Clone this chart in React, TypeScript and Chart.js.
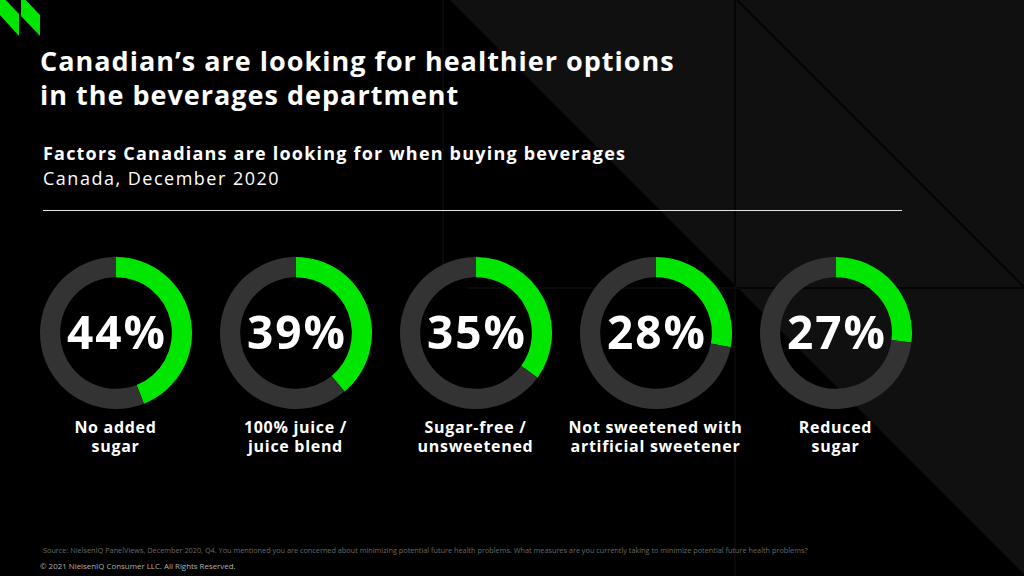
import React, { useEffect, useRef } from "react";
import { Chart, registerables } from "chart.js";

Chart.register(...registerables);

// Survey results: share of Canadians looking for each factor when buying beverages
const factorLines: string[][] = [
  ["No added", "sugar"],
  ["100% juice /", "juice blend"],
  ["Sugar-free /", "unsweetened"],
  ["Not sweetened with", "artificial sweetener"],
  ["Reduced", "sugar"],
];
const sharePct: number[] = [44, 39, 35, 28, 27];

const GREEN = "#00e600";
const RING_GREY = "#333333";
const FONT = "'Open Sans', 'DejaVu Sans', sans-serif";

const RING_R = 76;
const RING_CY = 332.5;
const RING_X0 = 115.5;
const RING_STEP = 180;

// Writes the value in the hole of the ring, taken from the dataset itself
const centerValuePlugin = {
  id: "centerValue",
  afterDraw(chart: any) {
    const meta = chart.getDatasetMeta(0);
    const arc = meta.data[0];
    if (!arc) return;
    const v = chart.data.datasets[0].data[0];
    const { ctx } = chart;
    ctx.save();
    ctx.fillStyle = "#ffffff";
    ctx.font = `700 46px ${FONT}`;
    (ctx as any).letterSpacing = "2px";
    ctx.textAlign = "center";
    ctx.textBaseline = "alphabetic";
    ctx.fillText(`${v}%`, arc.x + 1, arc.y + 16);
    ctx.restore();
  },
};

function Ring({ value, index }: { value: number; index: number }) {
  const ref = useRef<HTMLCanvasElement | null>(null);
  useEffect(() => {
    if (!ref.current) return;
    const chart = new Chart(ref.current, {
      type: "doughnut",
      data: {
        labels: ["yes", "other"],
        datasets: [
          {
            data: [value, 100 - value],
            backgroundColor: [GREEN, RING_GREY],
            borderWidth: 0,
          },
        ],
      },
      options: {
        responsive: false,
        animation: false,
        cutout: "73.5%",
        layout: { padding: 0 },
        plugins: { legend: { display: false }, tooltip: { enabled: false } },
        events: [],
      },
      plugins: [centerValuePlugin],
    });
    return () => chart.destroy();
  }, [value]);
  const cx = RING_X0 + index * RING_STEP;
  return (
    <canvas
      ref={ref}
      width={RING_R * 2}
      height={RING_R * 2}
      style={{
        position: "absolute",
        left: cx - RING_R,
        top: RING_CY - RING_R,
        width: RING_R * 2,
        height: RING_R * 2,
      }}
    />
  );
}

function Backdrop() {
  return (
    <svg
      width={1024}
      height={576}
      style={{ position: "absolute", left: 0, top: 0 }}
    >
      <defs>
        <clipPath id="greyZone">
          <polygon points="450,0 1024,0 1024,574" />
        </clipPath>
        <clipPath id="blackZone">
          <polygon points="0,0 450,0 1024,574 1024,576 0,576" />
        </clipPath>
      </defs>
      <rect x={0} y={0} width={1024} height={576} fill="#000" />
      <polygon points="450,0 1024,0 1024,574" fill="#101010" />
      <g clipPath="url(#greyZone)" stroke="#000" strokeWidth={1.5}>
        <line x1={735} y1={0} x2={735} y2={576} />
        <line x1={467} y1={288} x2={1024} y2={288} />
        <line x1={737} y1={0} x2={1024} y2={287} />
      </g>
      <g clipPath="url(#blackZone)" stroke="#0c0c0c" strokeWidth={1.5}>
        <line x1={735} y1={0} x2={735} y2={576} />
        <line x1={467} y1={288} x2={1024} y2={288} />
        <line x1={443} y1={0} x2={443} y2={288} />
      </g>
      <polygon points="0,-6 19,14 19,36 0,15" fill={GREEN} />
      <polygon points="21,-5 40,15 40,36 21,16" fill={GREEN} />
    </svg>
  );
}

export default function App() {
  useEffect(() => {
    document.body.style.margin = "0";
    document.body.style.background = "#000";
  }, []);
  const txt = (style: React.CSSProperties, children: React.ReactNode, key?: number) => (
    <div
      key={key}
      style={{
        position: "absolute",
        whiteSpace: "nowrap",
        fontFamily: FONT,
        color: "#fff",
        ...style,
      }}
    >
      {children}
    </div>
  );
  return (
    <div
      style={{
        position: "absolute",
        left: 0,
        top: 0,
        width: 1024,
        height: 576,
        overflow: "hidden",
        background: "#000",
      }}
    >
      <Backdrop />
      {txt(
        {
          left: 40,
          top: 44,
          fontSize: 27,
          fontWeight: 700,
          lineHeight: "34px",
          letterSpacing: "1px",
        },
        <>
          Canadian’s are looking for healthier options
          <br />
          in the beverages department
        </>
      )}
      {txt(
        {
          left: 43,
          top: 141,
          fontSize: 18,
          fontWeight: 700,
          lineHeight: "24px",
          letterSpacing: "1.2px",
        },
        "Factors Canadians are looking for when buying beverages"
      )}
      {txt(
        {
          left: 43,
          top: 166,
          fontSize: 18,
          fontWeight: 400,
          lineHeight: "24px",
          letterSpacing: "1.5px",
        },
        "Canada, December 2020"
      )}
      <div
        style={{
          position: "absolute",
          left: 43,
          top: 210,
          width: 859,
          height: 1,
          background: "#e6e6e6",
        }}
      />
      {sharePct.map((v, i) => (
        <Ring key={i} value={v} index={i} />
      ))}
      {factorLines.map((lines, i) =>
        txt(
          {
            left: RING_X0 + i * RING_STEP - 100,
            width: 200,
            top: 418,
            textAlign: "center",
            fontSize: 16,
            fontWeight: 700,
            lineHeight: "19px",
            letterSpacing: "0.7px",
          },
          <>
            {lines[0]}
            <br />
            {lines[1]}
          </>,
          i
        )
      )}
      {txt(
        { left: 43, top: 545, fontSize: 7.3, color: "#6a6a6a", lineHeight: "10px" },
        "Source: NielsenIQ PanelViews, December 2020, Q4. You mentioned you are concerned about minimizing potential future health problems. What measures are you currently taking to minimize potential future health problems?"
      )}
      {txt(
        { left: 40, top: 561, fontSize: 7.9, color: "#b0b0b0", lineHeight: "10px" },
        "© 2021 NielsenIQ Consumer LLC. All Rights Reserved."
      )}
    </div>
  );
}
